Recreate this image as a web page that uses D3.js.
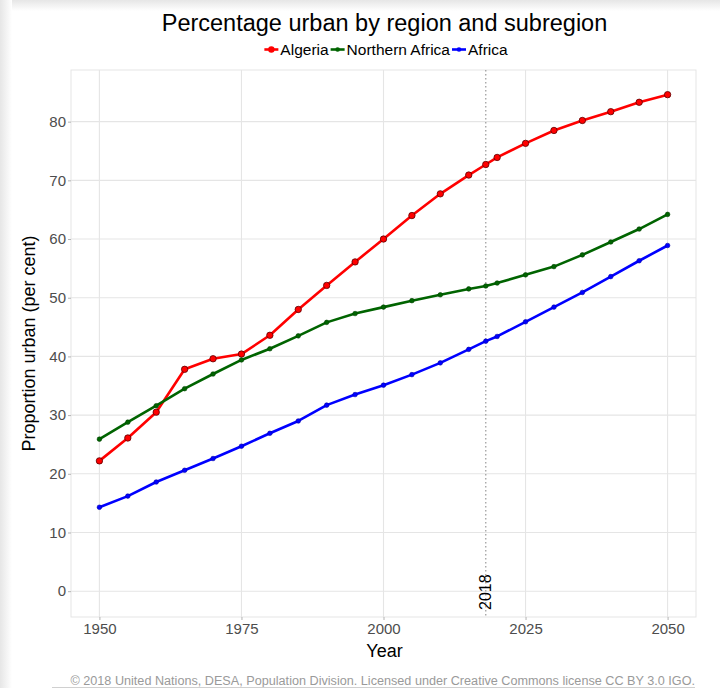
<!DOCTYPE html>
<html>
<head>
<meta charset="utf-8">
<script src="https://cdn.jsdelivr.net/npm/d3@7/dist/d3.min.js"></script>
<style>
  html, body { margin: 0; padding: 0; background: #fff; }
  svg { display: block; font-family: "Liberation Sans", Arial, sans-serif; }
  .axis text { fill: #4d4d4d; font-size: 15px; }
  .axis line { stroke: #b3b3b3; }
  .axis path { display: none; }
</style>
</head>
<body>
<svg id="chart" width="720" height="688"></svg>
<script>
const years = [1950,1955,1960,1965,1970,1975,1980,1985,1990,1995,2000,2005,2010,2015,2018,2020,2025,2030,2035,2040,2045,2050];
const algeria = [22.2,26.1,30.5,37.8,39.6,40.4,43.6,48.0,52.1,56.1,60.0,64.0,67.7,70.9,72.7,73.9,76.3,78.5,80.2,81.7,83.3,84.6];
const northernAfrica = [25.9,28.8,31.6,34.5,37.0,39.4,41.3,43.5,45.8,47.3,48.4,49.5,50.5,51.5,52.0,52.5,53.9,55.3,57.3,59.5,61.7,64.2];
const africa = [14.3,16.2,18.6,20.6,22.6,24.7,26.9,29.0,31.7,33.5,35.1,36.9,38.9,41.2,42.6,43.4,45.9,48.4,50.9,53.6,56.3,58.9];
const seriesNames = ["Algeria", "Northern Africa", "Africa"];
const seriesColors = ["#ff0000", "#006400", "#0000ff"];
const xTicks = [1950, 1975, 2000, 2025, 2050];
const yTicks = [0, 10, 20, 30, 40, 50, 60, 70, 80];
const markerYear = 2018;
const titleText = "Percentage urban by region and subregion";
const xTitle = "Year";
const yTitle = "Proportion urban (per cent)";
const footerText = "\u00a9 2018 United Nations, DESA, Population Division. Licensed under Creative Commons license CC BY 3.0 IGO.";

const svg = d3.select("#chart");
const W = 720, H = 688;
const panel = {left: 71, right: 696, top: 70, bottom: 617};

// background shadow edges
const defs = svg.append("defs");
const gl = defs.append("linearGradient").attr("id", "gl").attr("x1", 0).attr("x2", 1).attr("y1", 0).attr("y2", 0);
gl.append("stop").attr("offset", 0).attr("stop-color", "#e6e6e6");
gl.append("stop").attr("offset", 1).attr("stop-color", "#ffffff");
const gt = defs.append("linearGradient").attr("id", "gt").attr("x1", 0).attr("x2", 0).attr("y1", 0).attr("y2", 1);
gt.append("stop").attr("offset", 0).attr("stop-color", "#e6e6e6");
gt.append("stop").attr("offset", 1).attr("stop-color", "#ffffff");
svg.append("rect").attr("x", 0).attr("y", 0).attr("width", W).attr("height", H).attr("fill", "#fff");
svg.append("rect").attr("x", 0).attr("y", 0).attr("width", W).attr("height", 11).attr("fill", "url(#gt)");
svg.append("rect").attr("x", 0).attr("y", 0).attr("width", 12).attr("height", H).attr("fill", "url(#gl)");

const x = d3.scaleLinear().domain([1945, 2055]).range([panel.left, panel.right]);
const y = d3.scaleLinear().domain([-4.4, 88.8]).range([panel.bottom, panel.top]);

// grid
const grid = svg.append("g");
grid.selectAll(".gx").data(xTicks).join("line")
  .attr("x1", d => x(d)).attr("x2", d => x(d))
  .attr("y1", panel.top).attr("y2", panel.bottom)
  .attr("stroke", "#e5e5e5").attr("stroke-width", 1.1);
grid.selectAll(".gy").data(yTicks).join("line")
  .attr("x1", panel.left).attr("x2", panel.right)
  .attr("y1", d => y(d)).attr("y2", d => y(d))
  .attr("stroke", "#e5e5e5").attr("stroke-width", 1.1);
svg.append("rect")
  .attr("x", panel.left).attr("y", panel.top)
  .attr("width", panel.right - panel.left).attr("height", panel.bottom - panel.top)
  .attr("fill", "none").attr("stroke", "#e5e5e5").attr("stroke-width", 1);

// axes
svg.append("g").attr("class", "axis")
  .attr("transform", `translate(${panel.left},0)`)
  .call(d3.axisLeft(y).tickValues(yTicks).tickSize(3).tickPadding(2).tickFormat(d3.format("d")));
svg.append("g").attr("class", "axis")
  .attr("transform", `translate(0,${panel.bottom})`)
  .call(d3.axisBottom(x).tickValues(xTicks).tickSize(3).tickPadding(3).tickFormat(d3.format("d")));

// 2018 line
svg.append("line")
  .attr("x1", x(markerYear)).attr("x2", x(markerYear))
  .attr("y1", panel.top).attr("y2", panel.bottom)
  .attr("stroke", "#999").attr("stroke-width", 1.2).attr("stroke-dasharray", "1.5,2.5");
svg.append("text")
  .attr("transform", `translate(${x(markerYear) + 5.5},${panel.bottom - 7}) rotate(-90)`)
  .attr("font-size", 16).attr("fill", "#000")
  .text(String(markerYear));

// series
const seriesData = [algeria, northernAfrica, africa];
const line = d3.line().x((d, i) => x(years[i])).y(d => y(d));
seriesData.forEach((vals, si) => {
  svg.append("path").datum(vals)
    .attr("d", line)
    .attr("fill", "none")
    .attr("stroke", seriesColors[si])
    .attr("stroke-width", 2.6)
    .attr("stroke-linejoin", "round");
});
seriesData.forEach((vals, si) => {
  svg.append("g").selectAll("circle").data(vals).join("circle")
    .attr("cx", (d, i) => x(years[i]))
    .attr("cy", d => y(d))
    .attr("r", si === 0 ? 3.2 : 2.3)
    .attr("fill", seriesColors[si])
    .attr("stroke", si === 0 ? "#5a0000" : d3.color(seriesColors[si]).darker(1.2))
    .attr("stroke-width", si === 0 ? 0.8 : 0.6);
});

// title
svg.append("text")
  .attr("x", (panel.left + panel.right) / 2 + 1).attr("y", 31)
  .attr("text-anchor", "middle").attr("font-size", 23.5).attr("fill", "#000")
  .text(titleText);

// legend
const legend = svg.append("g");
let lx = 0;
seriesNames.forEach((name, i) => {
  const g = legend.append("g").attr("transform", `translate(${lx},0)`);
  g.append("line").attr("x1", 0).attr("x2", 14).attr("y1", 0).attr("y2", 0)
    .attr("stroke", seriesColors[i]).attr("stroke-width", 2.6);
  g.append("circle").attr("cx", 7).attr("cy", 0).attr("r", i === 0 ? 3.2 : 2.3)
    .attr("fill", seriesColors[i]);
  const t = g.append("text").attr("x", 16).attr("y", 5.5)
    .attr("font-size", 15.5).attr("fill", "#000").text(name);
  lx += 16 + t.node().getComputedTextLength() + 2;
});
const legendWidth = lx - 2;
legend.attr("transform", `translate(${386 - legendWidth / 2},49.5)`);

// axis titles
svg.append("text")
  .attr("x", (panel.left + panel.right) / 2 + 1).attr("y", 657)
  .attr("text-anchor", "middle").attr("font-size", 18).attr("fill", "#000")
  .text(xTitle);
svg.append("text")
  .attr("transform", `translate(35,${(panel.top + panel.bottom) / 2}) rotate(-90)`)
  .attr("text-anchor", "middle").attr("font-size", 18).attr("fill", "#000")
  .text(yTitle);

// footer
svg.append("text")
  .attr("x", 695).attr("y", 685)
  .attr("text-anchor", "end").attr("font-size", 12.65).attr("fill", "#9a9a9a")
  .text(footerText);
svg.append("line")
  .attr("x1", 52).attr("x2", 695).attr("y1", 687.5).attr("y2", 687.5)
  .attr("stroke", "#d0d0d0").attr("stroke-width", 1);
</script>
</body>
</html>
